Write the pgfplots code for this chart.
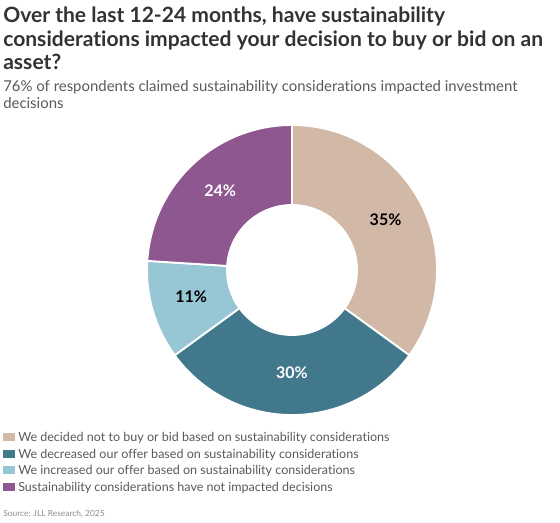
\documentclass[border=0pt]{standalone}
\usepackage{pgfplots}
\pgfplotsset{compat=1.18}
\usepackage{fontspec}
\setmainfont{Lato}[Ligatures=NoCommon]

\definecolor{titlegrey}{HTML}{333333}
\definecolor{subgrey}{HTML}{595959}
\definecolor{srcgrey}{HTML}{8C8C8C}
\definecolor{sliceA}{HTML}{D1B8A7}
\definecolor{sliceB}{HTML}{41788C}
\definecolor{sliceC}{HTML}{97C6D5}
\definecolor{sliceD}{HTML}{8E578F}

% #1 start (%), #2 share (%), #3 fill, #4 label colour
% radii in px (1px = 0.75pt): outer 145, inner 65, label 105
\newcommand{\donutslice}[4]{%
  \filldraw[fill=#3, draw=white, line width=1.4pt, line join=round]
    (axis cs:{145*cos(90-3.6*#1)},{145*sin(90-3.6*#1)})
    arc[start angle={90-3.6*#1}, end angle={90-3.6*(#1+#2)}, radius=108.75pt]
    -- (axis cs:{65*cos(90-3.6*(#1+#2))},{65*sin(90-3.6*(#1+#2))})
    arc[start angle={90-3.6*(#1+#2)}, end angle={90-3.6*#1}, radius=48.75pt]
    -- cycle;
  \node[font=\bfseries\fontsize{12}{14}\selectfont, text=#4, yshift=2pt]
    at (axis cs:{105*cos(90-3.6*(#1+#2/2))},{105*sin(90-3.6*(#1+#2/2))}) {#2\%};
}

\begin{document}
\begin{tikzpicture}[x=0.75pt,y=-0.75pt]
\path[use as bounding box] (0,0) rectangle (560,522);

% titles
\begin{scope}[every node/.style={anchor=base west, inner sep=0pt}]
\node[font=\bfseries\fontsize{15.8}{18}\selectfont, text=titlegrey] at (3,22) {Over the last 12-24 months, have sustainability};
\node[font=\bfseries\fontsize{15.8}{18}\selectfont, text=titlegrey] at (3,46) {considerations impacted your decision to buy or bid on an};
\node[font=\bfseries\fontsize{15.8}{18}\selectfont, text=titlegrey] at (3,69) {asset?};
\node[font=\fontsize{11.2}{13}\selectfont, text=subgrey] at (3,91) {76\% of respondents claimed sustainability considerations impacted investment};
\node[font=\fontsize{11.2}{13}\selectfont, text=subgrey] at (3,108) {decisions};
\end{scope}

\begin{axis}[
    at={(219pt,-202.5pt)}, anchor=center,
    x=0.75pt, y=0.75pt,
    xmin=-150, xmax=150, ymin=-150, ymax=150,
    hide axis, clip=false,
]
\donutslice{0}{35}{sliceA}{black}
\donutslice{35}{30}{sliceB}{white}
\donutslice{65}{11}{sliceC}{black}
\donutslice{76}{24}{sliceD}{white}
\end{axis}

% legend
\begin{scope}[every node/.style={anchor=base west, inner sep=0pt, font=\fontsize{9.4}{11}\selectfont, text=subgrey}]
\fill[sliceA] (3,433) rectangle (15,441);
\node at (18,441) {We decided not to buy or bid based on sustainability considerations};
\fill[sliceB] (3,450) rectangle (15,458);
\node at (18,458) {We decreased our offer based on sustainability considerations};
\fill[sliceC] (3,466) rectangle (15,474);
\node at (18,474) {We increased our offer based on sustainability considerations};
\fill[sliceD] (3,483) rectangle (15,491);
\node at (18,491) {Sustainability considerations have not impacted decisions};
\node[font=\fontsize{6.3}{8}\selectfont, text=srcgrey] at (3,516) {Source: JLL Research, 2025};
\end{scope}
\end{tikzpicture}
\end{document}
